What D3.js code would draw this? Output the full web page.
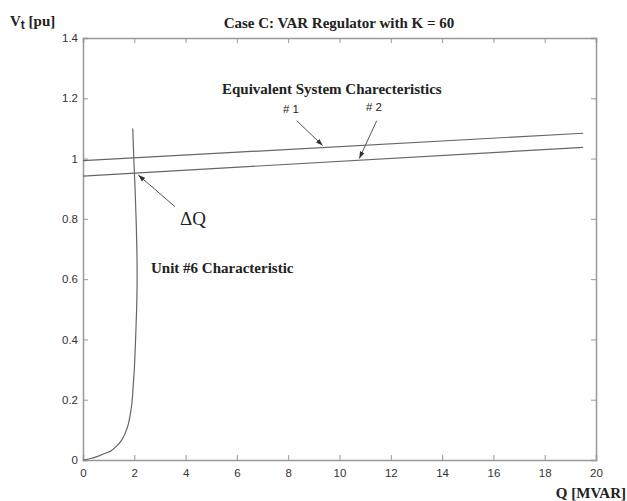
<!DOCTYPE html>
<html><head><meta charset="utf-8">
<script src="https://cdn.jsdelivr.net/npm/d3@7"></script>
<style>body{margin:0;background:#fff}</style>
</head><body>
<svg id="c" width="627" height="501"></svg>
<script>
const xTicks = [0,2,4,6,8,10,12,14,16,18,20];
const yTicks = [0,0.2,0.4,0.6,0.8,1,1.2,1.4];
const sys1Q = [0, 19.5];
const sys1V = [0.993, 1.084];
const sys2Q = [0, 19.5];
const sys2V = [0.942, 1.037];
const unitQ = [0,0.3,0.6,0.9,1.1,1.3,1.5,1.65,1.77,1.85,1.91,1.96,2.0,2.05,2.09,2.11,2.1,2.07,2.03,1.98,1.94];
const unitV = [0,0.005,0.013,0.023,0.031,0.045,0.065,0.09,0.12,0.155,0.19,0.25,0.3,0.4,0.5,0.6,0.7,0.8,0.9,1.0,1.1];

const svg = d3.select('#c');
const x = d3.scaleLinear().domain([0,20]).range([83,596]);
const y = d3.scaleLinear().domain([0,1.4]).range([460,38]);
const axisCol = '#999', lineCol = '#666', txtCol = '#333';
const serif = 'Liberation Serif, Times New Roman, serif';
const sans = 'Liberation Sans, Arial, sans-serif';

svg.append('defs').append('marker').attr('id','ah').attr('viewBox','0 0 10 10')
  .attr('refX',10).attr('refY',5).attr('markerWidth',7).attr('markerHeight',7)
  .attr('orient','auto').append('path').attr('d','M0,1.5 L10,5 L0,8.5 Z').attr('fill','#333');

const gx = svg.append('g').attr('transform','translate(0,460)')
  .call(d3.axisBottom(x).tickValues(xTicks).tickSize(-5).tickPadding(9).tickFormat(d3.format('d')));
const gy = svg.append('g').attr('transform','translate(83,0)')
  .call(d3.axisLeft(y).tickValues(yTicks).tickSize(-5).tickPadding(5).tickFormat(d=>d3.format('~g')(d)));
const gxt = svg.append('g').attr('transform','translate(0,38)')
  .call(d3.axisTop(x).tickValues(xTicks).tickSize(-5).tickFormat(''));
const gyr = svg.append('g').attr('transform','translate(596,0)')
  .call(d3.axisRight(y).tickValues(yTicks).tickSize(-5).tickFormat(''));
[gx,gy,gxt,gyr].forEach(g=>{
  g.selectAll('.domain').attr('stroke',axisCol).attr('stroke-width',1.5);
  g.selectAll('.tick line').attr('stroke',axisCol);
  g.selectAll('text').attr('fill',txtCol).attr('font-family',sans).attr('font-size',11.5);
});

const line = d3.line().x(d=>x(d[0])).y(d=>y(d[1]));
svg.append('path').datum(sys1Q.map((q,i)=>[q,sys1V[i]])).attr('d',line)
  .attr('fill','none').attr('stroke',lineCol).attr('stroke-width',1.2);
svg.append('path').datum(sys2Q.map((q,i)=>[q,sys2V[i]])).attr('d',line)
  .attr('fill','none').attr('stroke',lineCol).attr('stroke-width',1.2);
svg.append('path').datum(unitQ.map((q,i)=>[q,unitV[i]])).attr('d',d3.line().curve(d3.curveCatmullRom).x(d=>x(d[0])).y(d=>y(d[1])))
  .attr('fill','none').attr('stroke',lineCol).attr('stroke-width',1.2);

const bold = (t,xx,yy,anchor)=>svg.append('text').attr('x',xx).attr('y',yy).attr('text-anchor',anchor||'start')
  .attr('font-family',serif).attr('font-weight','bold').attr('font-size',15).attr('fill','#222').text(t);
bold('Case C: VAR Regulator with K = 60',339,28,'middle');
const vt = svg.append('text').attr('x',10).attr('y',26).attr('font-family',serif)
  .attr('font-weight','bold').attr('font-size',15).attr('fill','#222');
vt.append('tspan').text('V');
vt.append('tspan').attr('dy',3).attr('font-family',sans).attr('font-size',12).text('t');
vt.append('tspan').attr('dy',-3).text(' [pu]');
bold('Q [MVAR]',626,498,'end');
bold('Equivalent System Charecteristics',222,94);
bold('Unit #6 Characteristic',151,273);
svg.append('text').attr('x',291).attr('y',113).attr('text-anchor','middle')
  .attr('font-family',sans).attr('font-size',11.5).attr('fill','#222').text('# 1');
svg.append('text').attr('x',374).attr('y',111).attr('text-anchor','middle')
  .attr('font-family',sans).attr('font-size',11.5).attr('fill','#222').text('# 2');
svg.append('text').attr('x',180).attr('y',225)
  .attr('font-family',serif).attr('font-size',19).attr('fill','#222').text('ΔQ');

const arrows = [[296.7,120.7,322.7,145.5],[376.7,120.7,359.3,158.5],[175,206.7,138.3,175]];
arrows.forEach(a=>svg.append('line').attr('x1',a[0]).attr('y1',a[1]).attr('x2',a[2]).attr('y2',a[3])
  .attr('stroke','#555').attr('stroke-width',1).attr('marker-end','url(#ah)'));
</script>
</body></html>
